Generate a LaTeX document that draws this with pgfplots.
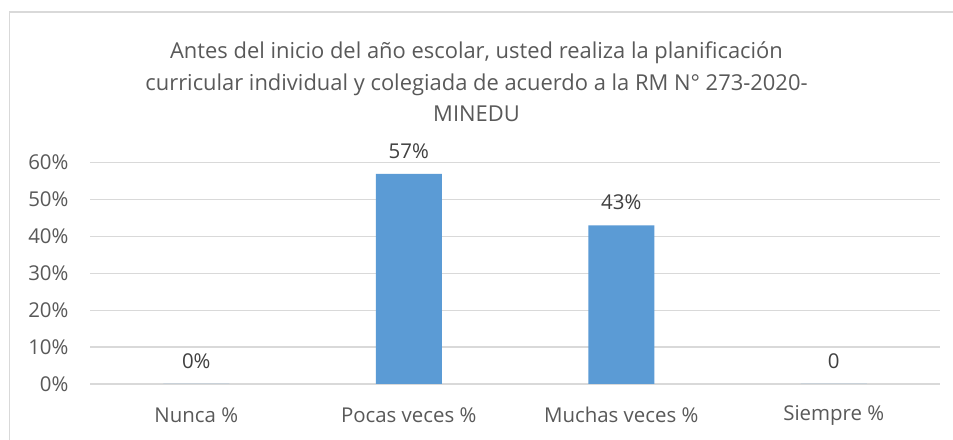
\documentclass[border=0pt]{standalone}
\usepackage{pgfplots}
\pgfplotsset{compat=1.18}
\usepackage{fontspec}
\setmainfont{Open Sans}
\definecolor{barblue}{HTML}{5B9BD5}
\definecolor{gridgray}{HTML}{D9D9D9}
\definecolor{txtgray}{HTML}{595959}
\definecolor{lblgray}{HTML}{404040}
\begin{document}
\begin{tikzpicture}[x=1bp,y=1bp]
\fill[white] (0,0) rectangle (953,440);
\begin{scope}
\clip (0,0) rectangle (953,440);
\draw[gridgray, line width=1.3bp] (9.5,-20) rectangle (990,428);
\end{scope}
\node[align=center, text=txtgray, font=\fontsize{22}{31.5}\selectfont] at (476.5,358) {Antes del inicio del año escolar, usted realiza la planificación\\curricular individual y colegiada de acuerdo a la RM N° 273-2020-\\MINEDU};
\begin{axis}[
  at={(90bp,56bp)}, anchor=south west,
  scale only axis, width=850bp, height=221.3bp,
  xmin=-0.5, xmax=3.5, ymin=0, ymax=60,
  axis line style={draw=none},
  ytick={0,10,20,30,40,50,60},
  yticklabels={0\%,10\%,20\%,30\%,40\%,50\%,60\%},
  xtick={0,1,2,3},
  xticklabels={Nunca \%,Pocas veces \%,Muchas veces \%,Siempre \%},
  major tick length=0pt,
  ymajorgrids, grid style={gridgray, line width=1.3bp},
  tick label style={text=txtgray, font=\fontsize{20.5}{24}\selectfont},
  yticklabel style={anchor=east, xshift=-18bp},
  xticklabel style={anchor=center, yshift=-31bp},
  ybar, bar width=66bp,
  nodes near coords,
  point meta=explicit symbolic,
  every node near coord/.append style={text=lblgray, font=\fontsize{20.5}{24}\selectfont, anchor=center, yshift=23bp},
]
\addplot[fill=barblue, draw=none] coordinates {(0,0) [0\%] (1,57) [57\%] (2,43) [43\%] (3,0) [0]};
\end{axis}
\pgfresetboundingbox
\useasboundingbox (0,0) rectangle (953,440);
\end{tikzpicture}
\end{document}
